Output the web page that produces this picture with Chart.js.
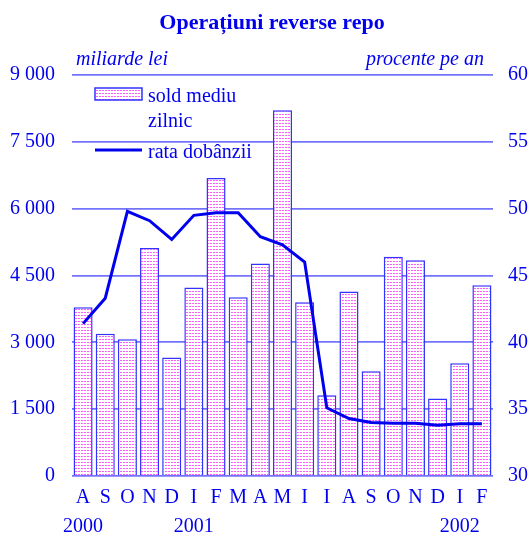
<!DOCTYPE html>
<html>
<head>
<meta charset="utf-8">
<script src="https://cdn.jsdelivr.net/npm/chart.js@4/dist/chart.umd.min.js"></script>
<style>
  html, body { margin: 0; padding: 0; background: #fff; }
  #wrap { width: 531px; height: 537px; position: relative; }
</style>
</head>
<body>
<div id="wrap"><canvas id="chart" width="531" height="537"></canvas></div>
<script>
/* ==== data ==== */
var months = ['A', 'S', 'O', 'N', 'D', 'I', 'F', 'M', 'A', 'M', 'I', 'I', 'A', 'S', 'O', 'N', 'D', 'I', 'F'];
var years = ['2000', '', '', '', '', '2001', '', '', '', '', '', '', '', '', '', '', '', '2002', ''];
// sold mediu zilnic, miliarde lei
var soldMediu = [3790, 3190, 3070, 5120, 2660, 4230, 6690, 4010, 4770, 8210, 3900, 1810, 4140, 2350, 4920, 4840, 1740, 2530, 4280];
// rata dobanzii, procente pe an
var rataDobanzii = [41.4, 43.3, 49.8, 49.1, 47.7, 49.5, 49.7, 49.7, 47.9, 47.3, 46.0, 35.1, 34.3, 34.0, 33.95, 33.95, 33.8, 33.9, 33.9];
var leftTicks = [0, 1500, 3000, 4500, 6000, 7500, 9000];
var rightTicks = [30, 35, 40, 45, 50, 55, 60];

var TITLE = 'Operațiuni reverse repo';
var BLUE = '#0000ee';
var FONT = '"Liberation Serif", "Times New Roman", serif';

// pink dotted fill for the bars
function makePattern() {
    var c = document.createElement('canvas');
    c.width = 3; c.height = 3;
    var p = c.getContext('2d');
    p.fillStyle = '#ffffff';
    p.fillRect(0, 0, 3, 3);
    p.fillStyle = '#ff5cff';
    p.fillRect(0, 0, 2, 1);
    return p.createPattern(c, 'repeat');
}
var pinkDots = makePattern();

var labels = months.map(function(m, i) { return [m, years[i]]; });

// title, axis units and the legend
var decorations = {
    id: 'decorations',
    afterDraw: function(chart) {
        var ctx = chart.ctx;
        ctx.save();
        ctx.fillStyle = BLUE;
        ctx.textBaseline = 'alphabetic';

        ctx.font = 'bold 22px ' + FONT;
        ctx.textAlign = 'center';
        ctx.fillText(TITLE, 272, 29);

        ctx.font = 'italic 20px ' + FONT;
        ctx.textAlign = 'left';
        ctx.fillText('miliarde lei', 76, 65);
        ctx.textAlign = 'right';
        ctx.fillText('procente pe an', 484, 65);

        // legend
        ctx.fillStyle = pinkDots;
        ctx.fillRect(95, 88, 47, 12);
        ctx.strokeStyle = '#3333ff';
        ctx.lineWidth = 1.5;
        ctx.strokeRect(95, 88, 47, 12);

        ctx.strokeStyle = BLUE;
        ctx.lineWidth = 3;
        ctx.beginPath();
        ctx.moveTo(95, 150);
        ctx.lineTo(142, 150);
        ctx.stroke();

        ctx.fillStyle = BLUE;
        ctx.font = '20px ' + FONT;
        ctx.textAlign = 'left';
        ctx.fillText('sold mediu', 148, 102);
        ctx.fillText('zilnic', 148, 127);
        ctx.fillText('rata dobânzii', 148, 158);
        ctx.restore();
    }
};

var ctx = document.getElementById('chart');
var chart = new Chart(ctx, {
    data: {
        labels: labels,
        datasets: [{
            type: 'line',
            label: 'rata dobânzii',
            data: rataDobanzii,
            yAxisID: 'y2',
            borderColor: BLUE,
            borderWidth: 3,
            pointRadius: 0,
            tension: 0,
            fill: false,
            order: 0
        }, {
            type: 'bar',
            label: 'sold mediu zilnic',
            data: soldMediu,
            yAxisID: 'y',
            backgroundColor: pinkDots,
            borderColor: '#3333ff',
            borderWidth: 1.5,
            categoryPercentage: 1,
            barPercentage: 0.86,
            order: 1
        }]
    },
    options: {
        responsive: false,
        animation: false,
        layout: { padding: { top: 75, left: 0, right: 0, bottom: 0 } },
        plugins: {
            legend: { display: false },
            title: { display: false },
            tooltip: { enabled: false }
        },
        scales: {
            x: {
                grid: { display: false, drawTicks: false },
                border: { display: false },
                ticks: {
                    color: BLUE,
                    font: { family: FONT, size: 20, lineHeight: 1.45 },
                    padding: 7,
                    maxRotation: 0,
                    autoSkip: false
                },
                afterFit: function(s) { s.height = 61; }
            },
            y: {
                position: 'left',
                min: 0,
                max: 9000,
                afterBuildTicks: function(s) { s.ticks = leftTicks.map(function(v) { return { value: v }; }); },
                grid: { color: '#7373ff', lineWidth: 1.8, drawTicks: false },
                border: { display: false },
                ticks: {
                    color: BLUE,
                    font: { family: FONT, size: 20 },
                    padding: 17,
                    callback: function(v) { return String(v).replace(/\B(?=(\d{3})+(?!\d))/g, ' '); }
                },
                afterFit: function(s) { s.width = 72; }
            },
            y2: {
                position: 'right',
                min: 30,
                max: 60,
                afterBuildTicks: function(s) { s.ticks = rightTicks.map(function(v) { return { value: v }; }); },
                grid: { display: false, drawTicks: false },
                border: { display: false },
                ticks: {
                    color: BLUE,
                    font: { family: FONT, size: 20 },
                    padding: 15
                },
                afterFit: function(s) { s.width = 38; }
            }
        }
    },
    plugins: [decorations]
});
</script>
</body>
</html>
